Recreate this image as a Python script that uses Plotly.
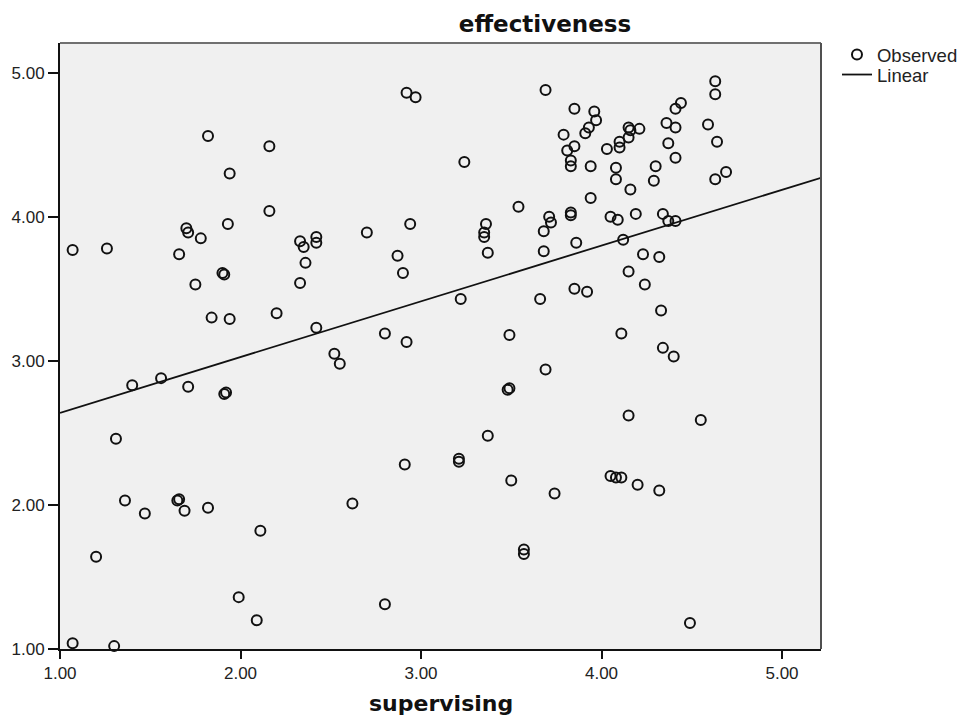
import plotly.graph_objects as go

# Observed cases: supervising (x) vs effectiveness (y)
supervising = [
    1.82, 2.16, 1.94, 2.16, 1.93, 1.70, 1.71, 1.78, 1.07, 1.26, 1.66, 1.90, 1.91, 1.75,
    1.84, 1.94, 2.20, 2.70, 2.33, 2.35, 2.42, 2.42, 2.36, 2.33, 2.42, 2.80,
    1.40, 1.56, 1.71, 1.91, 1.92, 1.31, 1.36, 1.47, 1.65, 1.66, 1.69, 1.82, 2.11, 1.20,
    1.99, 2.09, 1.07, 1.30,
    2.92, 2.97, 3.69, 3.24, 3.54, 3.71, 3.72, 3.68, 3.68, 3.36, 3.35, 3.35, 3.37, 2.94,
    2.87, 2.90, 3.22, 3.66, 2.92, 3.49,
    2.52, 2.55, 3.69, 3.48, 3.49, 3.37, 3.21, 3.21, 2.91, 3.50, 3.74, 2.62, 3.57, 3.57, 2.80,
    4.63, 4.63, 4.44, 4.41, 3.85, 3.96, 3.97, 3.93, 3.91, 3.79, 4.15, 4.16, 4.21, 4.15,
    4.10, 4.10, 4.03, 4.36, 4.41, 4.59, 4.64, 4.37, 4.41, 3.85, 3.81, 3.83, 3.83, 3.94,
    4.08, 4.08, 4.30, 4.29, 4.16, 4.69, 4.63, 3.94, 3.83, 3.83, 4.05, 4.09, 4.19, 4.34,
    4.37, 4.41, 3.86, 4.12, 4.23, 4.32, 4.15, 4.24, 3.85, 3.92, 4.33, 4.11,
    4.34, 4.40, 4.15, 4.55, 4.05, 4.08, 4.11, 4.20, 4.32, 4.49,
]
effectiveness = [
    4.56, 4.49, 4.30, 4.04, 3.95, 3.92, 3.89, 3.85, 3.77, 3.78, 3.74, 3.61, 3.60, 3.53,
    3.30, 3.29, 3.33, 3.89, 3.83, 3.79, 3.86, 3.82, 3.68, 3.54, 3.23, 3.19,
    2.83, 2.88, 2.82, 2.77, 2.78, 2.46, 2.03, 1.94, 2.03, 2.04, 1.96, 1.98, 1.82, 1.64,
    1.36, 1.20, 1.04, 1.02,
    4.86, 4.83, 4.88, 4.38, 4.07, 4.00, 3.96, 3.90, 3.76, 3.95, 3.89, 3.86, 3.75, 3.95,
    3.73, 3.61, 3.43, 3.43, 3.13, 3.18,
    3.05, 2.98, 2.94, 2.80, 2.81, 2.48, 2.32, 2.30, 2.28, 2.17, 2.08, 2.01, 1.69, 1.66, 1.31,
    4.94, 4.85, 4.79, 4.75, 4.75, 4.73, 4.67, 4.62, 4.58, 4.57, 4.62, 4.60, 4.61, 4.55,
    4.52, 4.48, 4.47, 4.65, 4.62, 4.64, 4.52, 4.51, 4.41, 4.49, 4.46, 4.39, 4.35, 4.35,
    4.34, 4.26, 4.35, 4.25, 4.19, 4.31, 4.26, 4.13, 4.03, 4.01, 4.00, 3.98, 4.02, 4.02,
    3.97, 3.97, 3.82, 3.84, 3.74, 3.72, 3.62, 3.53, 3.50, 3.48, 3.35, 3.19,
    3.09, 3.03, 2.62, 2.59, 2.20, 2.19, 2.19, 2.14, 2.10, 1.18,
]

# Linear fit: effectiveness = intercept + slope * supervising
fit_intercept = 2.252
fit_slope = 0.387

x_range = [1.0, 5.216]
y_range = [1.0, 5.206]
tick_values = [1, 2, 3, 4, 5]
tick_labels = ["1.00", "2.00", "3.00", "4.00", "5.00"]

fit_x = x_range
fit_y = [fit_intercept + fit_slope * v for v in fit_x]

tick_font = dict(family="Liberation Sans, Arial, sans-serif", size=17, color="#222222")
legend_font = dict(family="Liberation Sans, Arial, sans-serif", size=18.5, color="#222222")
bold_font = dict(family="DejaVu Sans, Verdana, sans-serif", size=23, color="#111111")

fig = go.Figure()

fig.add_trace(go.Scatter(
    x=supervising, y=effectiveness, mode="markers", name="Observed", legend="legend",
    marker=dict(symbol="circle-open", size=10, color="#111111", line=dict(width=2, color="#111111")),
    cliponaxis=False,
))

fig.add_trace(go.Scatter(
    x=fit_x, y=fit_y, mode="lines", name="Linear", legend="legend2",
    line=dict(color="#111111", width=1.8),
))

legend_common = dict(xanchor="left", yanchor="top", font=legend_font,
                     bgcolor="rgba(0,0,0,0)", itemwidth=30)

fig.update_layout(
    width=965, height=717,
    margin=dict(l=60, r=144, t=43, b=68, autoexpand=False),
    paper_bgcolor="white",
    plot_bgcolor="#f0f0f0",
    showlegend=True,
    legend=dict(x=1.021, y=1.0 + 7 / 606, **legend_common),
    legend2=dict(x=1.021, y=1.0 - 13 / 606, **legend_common),
    title=dict(
        text="<b>effectiveness</b>", x=545 / 965, xanchor="center",
        y=1 - 24 / 717, yanchor="middle", font=bold_font,
    ),
    xaxis=dict(
        range=x_range, tickmode="array", tickvals=tick_values, ticktext=tick_labels,
        showgrid=False, zeroline=False, showline=True, linecolor="#111111", linewidth=2,
        ticks="outside", ticklen=8, tickwidth=2, tickcolor="#111111", tickfont=tick_font,
    ),
    yaxis=dict(
        range=y_range, tickmode="array", tickvals=tick_values, ticktext=tick_labels,
        showgrid=False, zeroline=False, showline=True, linecolor="#111111", linewidth=2,
        ticks="outside", ticklen=10, tickwidth=1.5, tickcolor="#111111", tickfont=tick_font,
    ),
    annotations=[dict(
        text="<b>supervising</b>", xref="paper", yref="paper", x=0.5, y=-(703 - 649) / 606,
        xanchor="center", yanchor="middle", showarrow=False,
        font=dict(family="DejaVu Sans, Verdana, sans-serif", size=22, color="#111111"),
    )],
    shapes=[
        # top and right edges of the plot frame
        dict(type="line", xref="paper", yref="paper", x0=0, x1=1, y0=1, y1=1,
             line=dict(color="#707070", width=2)),
        dict(type="line", xref="paper", yref="paper", x0=1, x1=1, y0=0, y1=1,
             line=dict(color="#505050", width=2)),
    ],
)

fig.write_html("out.html")
